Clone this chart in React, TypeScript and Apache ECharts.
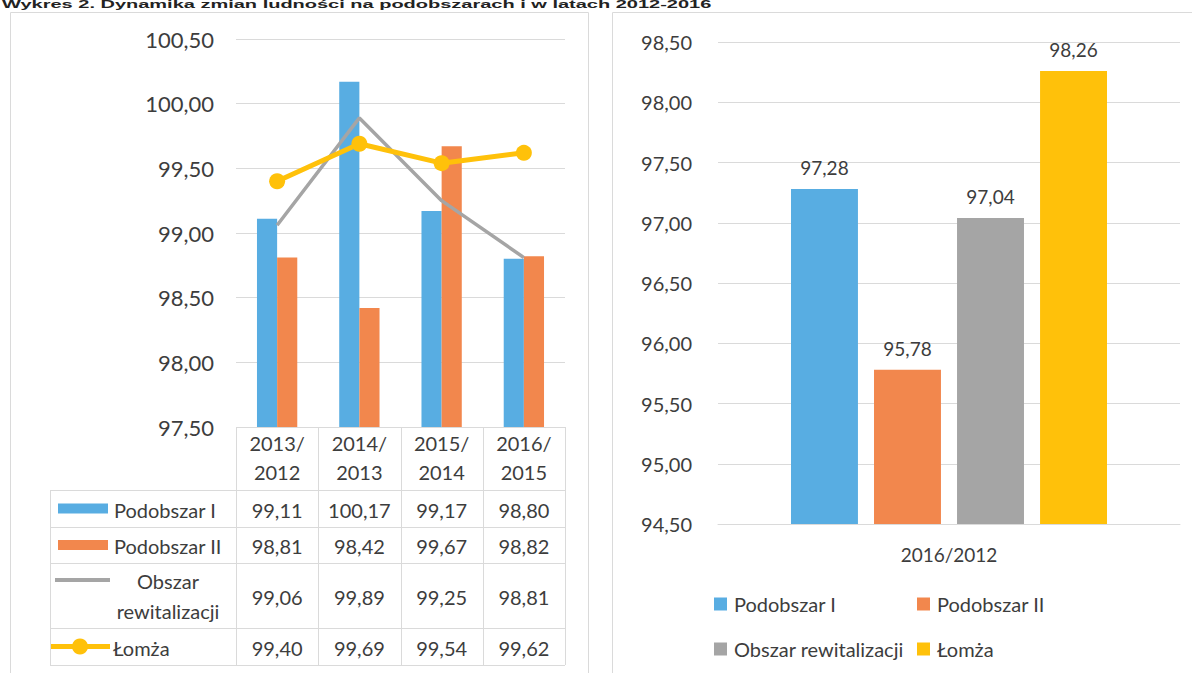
import React, { useEffect, useRef } from 'react';
import * as echarts from 'echarts';

const titleText = 'Wykres 2. Dynamika zmian ludności na podobszarach i w latach 2012-2016';
const categories = ['2013/2012', '2014/2013', '2015/2014', '2016/2015'];
const seriesNames = ['Podobszar I', 'Podobszar II', 'Obszar rewitalizacji', 'Łomża'];
const podobszarI = [99.11, 100.17, 99.17, 98.8];
const podobszarII = [98.81, 98.42, 99.67, 98.82];
const obszarRewitalizacji = [99.06, 99.89, 99.25, 98.81];
const lomza = [99.4, 99.69, 99.54, 99.62];
const leftAxis = { min: 97.5, max: 100.5, interval: 0.5 };

const totalCategories = ['2016/2012'];
const totalValues = [97.28, 95.78, 97.04, 98.26];
const rightAxis = { min: 94.5, max: 98.5, interval: 0.5 };

const colors = ['#58ade2', '#f2874d', '#a5a5a5', '#ffc10a'];
const FONT = 'Lato, "Noto Sans", sans-serif';
const TXT = '#3d3d3d';
const GRID = '#dadada';

const fmt = (v: number) => v.toFixed(2).replace('.', ',');

export default function App() {
  const ref = useRef<HTMLDivElement>(null);
  useEffect(() => {
    document.body.style.margin = '0';
    const chart = echarts.init(ref.current!, null, { renderer: 'svg' });
    const leftSeries = [podobszarI, podobszarII, obszarRewitalizacji, lomza];
    const option: any = {
      animation: false,
      textStyle: { fontFamily: FONT },
      grid: [
        { left: 236, top: 39, width: 329, height: 388 },
        { left: 718, top: 42, width: 462, height: 482 },
      ],
      xAxis: [
        {
          gridIndex: 0, type: 'category', data: categories,
          axisLine: { show: false }, axisTick: { show: false }, axisLabel: { show: false },
        },
        {
          gridIndex: 1, type: 'category', data: totalCategories,
          axisLine: { lineStyle: { color: GRID } }, axisTick: { show: false },
          axisLabel: { color: TXT, fontSize: 19, margin: 21, fontFamily: FONT },
        },
      ],
      yAxis: [
        {
          gridIndex: 0, type: 'value', ...leftAxis,
          axisLine: { show: false }, axisTick: { show: false },
          splitLine: { lineStyle: { color: GRID } },
          axisLabel: { color: TXT, fontSize: 22, margin: 22, fontFamily: FONT, formatter: fmt },
        },
        {
          gridIndex: 1, type: 'value', ...rightAxis,
          axisLine: { show: false }, axisTick: { show: false },
          splitLine: { lineStyle: { color: GRID } },
          axisLabel: { color: TXT, fontSize: 20, margin: 26, fontFamily: FONT, formatter: fmt },
        },
      ],
      legend: [
        { idx: 0, left: 714, top: 594 },
        { idx: 1, left: 917, top: 594 },
        { idx: 2, left: 714, top: 639 },
        { idx: 3, left: 917, top: 639 },
      ].map((l) => ({
        left: l.left, top: l.top, padding: 0,
        data: [{ name: seriesNames[l.idx], icon: 'rect', itemStyle: { color: colors[l.idx] } }],
        itemWidth: 13, itemHeight: 13, itemGap: 6, selectedMode: false,
        textStyle: { color: TXT, fontSize: 20, fontFamily: FONT, padding: [0, 0, 0, 2] },
      })),
      series: [
        {
          name: seriesNames[0], type: 'bar', xAxisIndex: 0, yAxisIndex: 0, data: leftSeries[0],
          itemStyle: { color: colors[0] }, barGap: '0%', barCategoryGap: '51%',
        },
        {
          name: seriesNames[1], type: 'bar', xAxisIndex: 0, yAxisIndex: 0, data: leftSeries[1],
          itemStyle: { color: colors[1] }, barGap: '0%', barCategoryGap: '51%',
        },
        {
          name: seriesNames[2], type: 'line', xAxisIndex: 0, yAxisIndex: 0, data: leftSeries[2],
          showSymbol: false, symbol: 'none', lineStyle: { color: colors[2], width: 3.5 },
          itemStyle: { color: colors[2] }, z: 3,
        },
        {
          name: seriesNames[3], type: 'line', xAxisIndex: 0, yAxisIndex: 0, data: leftSeries[3],
          symbol: 'circle', symbolSize: 16, lineStyle: { color: colors[3], width: 5 },
          itemStyle: { color: colors[3] }, z: 4,
        },
        ...totalValues.map((v, i) => ({
          name: seriesNames[i], type: 'bar', xAxisIndex: 1, yAxisIndex: 1, data: [v],
          itemStyle: { color: colors[i] }, barGap: '24%', barCategoryGap: '31.6%',
          label: {
            show: true, position: 'top', distance: 12, color: TXT, fontSize: 19,
            fontFamily: FONT, formatter: (p: any) => fmt(p.value),
          },
        })),
      ],
    };
    chart.setOption(option);

    // Data table under the left chart, positioned from the category axis scale.
    const centers = categories.map((_, i) => chart.convertToPixel({ gridIndex: 0 }, [i, leftAxis.min]) as number[]);
    const band = centers[1][0] - centers[0][0];
    const tableTop = centers[0][1];
    const colEdges = [centers[0][0] - band / 2, ...centers.map((c) => c[0] + band / 2)];
    const tableLeft = 50;
    const rowEdges = [tableTop, 490, 527, 563, 628, 665];
    const lineStyle = { stroke: GRID, lineWidth: 1 };
    const g: any[] = [];

    // panel borders
    g.push({ type: 'rect', shape: { x: 10.5, y: 12.5, width: 578, height: 700 }, style: { fill: 'none', stroke: GRID, lineWidth: 1 }, silent: true });
    g.push({ type: 'rect', shape: { x: 612.5, y: 12.5, width: 600, height: 700 }, style: { fill: 'none', stroke: GRID, lineWidth: 1 }, silent: true });

    // title (squeezed into the thin strip above the panels, as in the scan)
    g.push({
      type: 'text', x: 2, y: 0, scaleY: 0.5,
      style: { text: titleText, font: 'bold 20px "Liberation Sans", Arial, sans-serif', fill: '#222', textVerticalAlign: 'top' },
      silent: true,
    });

    // horizontal lines
    rowEdges.forEach((y, k) => {
      const x0 = k === 0 ? colEdges[0] : tableLeft;
      g.push({ type: 'line', shape: { x1: x0, y1: Math.round(y) + 0.5, x2: colEdges[colEdges.length - 1], y2: Math.round(y) + 0.5 }, style: lineStyle, silent: true });
    });
    // vertical lines
    colEdges.forEach((x) => {
      g.push({ type: 'line', shape: { x1: Math.round(x) + 0.5, y1: tableTop, x2: Math.round(x) + 0.5, y2: rowEdges[rowEdges.length - 1] }, style: lineStyle, silent: true });
    });
    g.push({ type: 'line', shape: { x1: tableLeft + 0.5, y1: rowEdges[1], x2: tableLeft + 0.5, y2: rowEdges[rowEdges.length - 1] }, style: lineStyle, silent: true });

    const txt = (text: string, x: number, y: number, align = 'center') => ({
      type: 'text', x, y,
      style: { text, font: `20px ${FONT}`, fill: TXT, textAlign: align, textVerticalAlign: 'middle' },
      silent: true,
    });

    // header
    categories.forEach((c, i) => {
      const [a, b] = c.split('/');
      g.push(txt(a + '/', centers[i][0], 443));
      g.push(txt(b, centers[i][0], 472));
    });

    // values
    const rowMid = (r: number) => (rowEdges[r + 1] + rowEdges[r + 2]) / 2;
    leftSeries.forEach((arr, r) => {
      arr.forEach((v, i) => g.push(txt(fmt(v), centers[i][0], rowMid(r) + 1)));
    });

    // legend keys in the table
    g.push({ type: 'rect', shape: { x: 58, y: rowMid(0) - 5, width: 50, height: 10 }, style: { fill: colors[0] }, silent: true });
    g.push(txt(seriesNames[0], 114, rowMid(0) + 1, 'left'));
    g.push({ type: 'rect', shape: { x: 58, y: rowMid(1) - 5, width: 50, height: 10 }, style: { fill: colors[1] }, silent: true });
    g.push(txt(seriesNames[1], 114, rowMid(1) + 1, 'left'));
    g.push({ type: 'line', shape: { x1: 55, y1: 580, x2: 110, y2: 580 }, style: { stroke: colors[2], lineWidth: 4 }, silent: true });
    const [w1, w2] = seriesNames[2].split(' ');
    g.push(txt(w1, 168, 581));
    g.push(txt(w2, 168, 611));
    g.push({ type: 'line', shape: { x1: 51, y1: rowMid(3), x2: 110, y2: rowMid(3) }, style: { stroke: colors[3], lineWidth: 5 }, silent: true });
    g.push({ type: 'circle', shape: { cx: 80, cy: rowMid(3), r: 8 }, style: { fill: colors[3] }, silent: true });
    g.push(txt(seriesNames[3], 113, rowMid(3) + 1, 'left'));

    chart.setOption({ graphic: g });
    return () => chart.dispose();
  }, []);
  return <div ref={ref} style={{ width: 1192, height: 673, background: '#fff' }} />;
}
